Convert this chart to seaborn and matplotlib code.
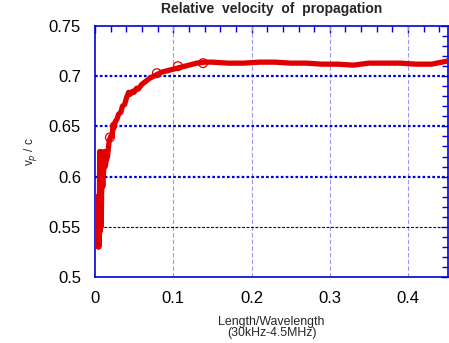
import matplotlib
matplotlib.use("Agg")
import matplotlib.pyplot as plt
import seaborn as sns
import pandas as pd
from matplotlib.ticker import MultipleLocator

# Data
length_ratio = [0.0025, 0.003, 0.0035, 0.004, 0.0045, 0.005, 0.0055, 0.006, 0.0065, 0.007,
                0.0075, 0.008, 0.0085, 0.009, 0.010, 0.011, 0.012, 0.013, 0.014, 0.016,
                0.018, 0.020, 0.022, 0.023, 0.024, 0.026, 0.028, 0.030, 0.033, 0.035,
                0.038, 0.040, 0.043, 0.045, 0.048, 0.050, 0.053, 0.055, 0.060, 0.065,
                0.070, 0.075, 0.080, 0.085, 0.090, 0.100, 0.110, 0.120, 0.130, 0.140,
                0.150, 0.170, 0.190, 0.210, 0.230, 0.250, 0.270, 0.290, 0.310, 0.330,
                0.350, 0.370, 0.390, 0.410, 0.430, 0.450]
vp_c = [0.565, 0.58, 0.555, 0.53, 0.575, 0.53, 0.56, 0.625, 0.545, 0.56,
        0.625, 0.55, 0.59, 0.60, 0.59, 0.605, 0.625, 0.61, 0.615, 0.62,
        0.635, 0.64, 0.64, 0.652, 0.648, 0.655, 0.657, 0.662, 0.664, 0.670,
        0.672, 0.678, 0.684, 0.682, 0.685, 0.684, 0.688, 0.687, 0.692, 0.695,
        0.698, 0.700, 0.702, 0.704, 0.705, 0.707, 0.709, 0.711, 0.713, 0.714,
        0.714, 0.713, 0.713, 0.714, 0.714, 0.713, 0.713, 0.712, 0.712, 0.711,
        0.713, 0.713, 0.713, 0.712, 0.712, 0.715]
marker_x = [0.019, 0.079, 0.106, 0.138]
marker_y = [0.639, 0.703, 0.710, 0.713]

x_ticks = [0, 0.1, 0.2, 0.3, 0.4]
y_ticks = [0.5, 0.55, 0.6, 0.65, 0.7, 0.75]
blue_grid_y = [0.6, 0.65, 0.7]
dark_grid_y = [0.55]
v_grid_x = [0.1, 0.2, 0.3, 0.4]

df = pd.DataFrame({"x": length_ratio, "y": vp_c})
dm = pd.DataFrame({"x": marker_x, "y": marker_y})

sns.set_style("white")
plt.rcParams["font.family"] = ["Liberation Sans", "DejaVu Sans"]

fig = plt.figure(figsize=(4.49, 3.43), dpi=100)
ax = fig.add_axes([95/449, (343-277)/343, (448-95)/449, (277-26)/343])

blue = "#0000dd"
for gx in v_grid_x:
    ax.axvline(gx, color="#9999ee", lw=0.8, ls=(0, (4, 2)), zorder=1)
for gy in blue_grid_y:
    ax.axhline(gy, color=blue, lw=1.6, ls=(0, (1.2, 1.0)), zorder=1)
for gy in dark_grid_y:
    ax.axhline(gy, color="#000044", lw=0.8, ls=(0, (2.5, 1.5)), zorder=1)

red = "#e00000"
sns.lineplot(data=df, x="x", y="y", ax=ax, color=red, lw=3.8, sort=False,
             estimator=None, zorder=3)
sns.scatterplot(data=dm, x="x", y="y", ax=ax, marker="o", s=40,
                facecolors="none", edgecolor=red, linewidth=0.9, zorder=4)

ax.set_xlim(0, 0.451)
ax.set_ylim(0.5, 0.75)
ax.set_xticks(x_ticks)
ax.set_xticklabels(["0", "0.1", "0.2", "0.3", "0.4"])
ax.set_yticks(y_ticks)
ax.set_yticklabels(["0.5", "0.55", "0.6", "0.65", "0.7", "0.75"])
ax.xaxis.set_minor_locator(MultipleLocator(0.02))
ax.yaxis.set_minor_locator(MultipleLocator(0.01))
ax.tick_params(which="both", direction="in", top=True, right=True, colors=blue,
               labelcolor="black", labelsize=12, width=1)
ax.tick_params(which="major", length=5)
ax.tick_params(which="minor", length=4)
ax.tick_params(axis="x", which="major", pad=10)
ax.tick_params(axis="y", which="major", pad=10)
for s in ax.spines.values():
    s.set_color(blue)
    s.set_linewidth(1.2)

ax.set_xlabel("Length/Wavelength\n(30kHz-4.5MHz)", fontsize=8.9, labelpad=7,
              linespacing=0.95)
ax.set_ylabel(r"v$_p$ / c", fontsize=8.5, labelpad=7)
ax.set_title("Relative  velocity  of  propagation", fontsize=10, fontweight="bold",
             pad=9)

fig.savefig("out.png", dpi=100)
